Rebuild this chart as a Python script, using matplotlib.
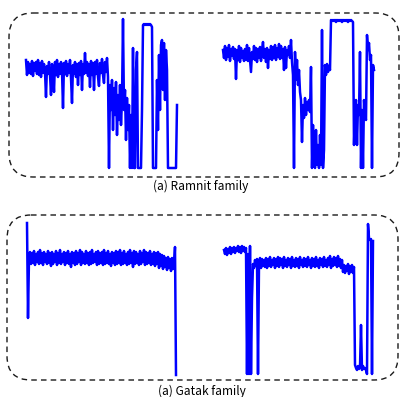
import matplotlib
matplotlib.use('Agg')
import matplotlib.pyplot as plt
from matplotlib.patches import FancyBboxPatch

# signal levels (height above the bottom of each plot)
ramnit_a = [110, 95, 108, 97, 106, 96, 109, 94, 107, 99,
            108, 96, 110, 95, 107, 93, 109, 97, 106, 98,
            73, 104, 96, 108, 95, 75, 106, 97, 78, 108,
            95, 110, 93, 106, 96, 108, 99, 62, 107, 96,
            109, 94, 106, 97, 110, 92, 67, 105, 96, 108,
            93, 106, 85, 107, 95, 109, 80, 106, 96, 117,
            97, 108, 94, 106, 83, 109, 95, 107, 80, 108,
            96, 110, 93, 84, 107, 97, 111, 95, 87, 108,
            98, 112, 93, 2, 85, 60, 90, 40, 82, 55,
            88, 35, 75, 50, 85, 45, 70, 151, 60, 80,
            30, 72, 40, 65, 2, 55, 2, 122, 2, 2,
            100, 118, 2, 2, 2, 2, 60, 145, 146, 145,
            146, 145, 146, 145, 146, 145, 143, 2, 2, 2,
            2, 90, 40, 115, 60, 125, 130, 80, 127, 70,
            120, 100, 2, 2, 2, 2, 2, 2, 2, 2,
            2, 65]
ramnit_b = [120, 112, 124, 110, 122, 113, 125, 109, 121, 114,
            123, 111, 121, 91, 120, 110, 124, 108, 122, 112,
            119, 109, 121, 110, 125, 109, 122, 110, 98, 118,
            111, 124, 110, 122, 108, 121, 112, 123, 109, 120,
            128, 112, 121, 108, 122, 102, 120, 111, 124, 110,
            123, 112, 125, 110, 122, 113, 126, 111, 124, 112,
            121, 100, 123, 102, 120, 115, 124, 112, 130, 108,
            95, 2, 118, 90, 110, 85, 100, 78, 70, 28,
            65, 52, 72, 55, 68, 60, 70, 58, 103, 2,
            45, 10, 2, 40, 5, 25, 2, 35, 5, 140,
            2, 20, 105, 95, 106, 98, 104, 100, 150, 149,
            150, 149, 150, 148, 150, 149, 150, 149, 150, 148,
            150, 149, 150, 149, 150, 148, 150, 149, 150, 149,
            148, 25, 60, 70, 25, 65, 55, 118, 2, 60,
            2, 70, 55, 50, 135, 120, 127, 110, 115, 2,
            105, 100]
gatak_a = [153, 58, 118, 124, 112, 123, 113, 125, 111, 122,
           114, 124, 112, 126, 113, 123, 111, 124, 114, 122,
           112, 125, 113, 123, 110, 124, 112, 122, 114, 125,
           111, 123, 113, 126, 112, 122, 114, 124, 111, 123,
           113, 125, 112, 122, 109, 124, 113, 123, 111, 125,
           112, 123, 114, 126, 111, 124, 113, 122, 112, 125,
           113, 123, 111, 124, 112, 126, 113, 122, 114, 124,
           111, 125, 112, 123, 113, 124, 111, 126, 112, 123,
           113, 125, 112, 122, 110, 124, 113, 123, 111, 125,
           112, 124, 113, 126, 111, 123, 112, 125, 113, 122,
           111, 124, 112, 126, 113, 123, 109, 125, 112, 124,
           113, 122, 111, 125, 112, 123, 114, 126, 111, 124,
           112, 123, 113, 125, 111, 122, 112, 124, 110, 123,
           112, 124, 108, 122, 110, 121, 107, 120, 109, 118,
           106, 119, 108, 117, 105, 118, 107, 110, 129, 1]
gatak_b = [126, 122, 128, 121, 127, 123, 129, 122, 128, 124,
           129, 123, 128, 125, 130, 124, 129, 123, 130, 125,
           129, 124, 128, 2, 122, 2, 130, 2, 78, 112,
           108, 116, 110, 117, 2, 112, 118, 108, 117, 110,
           116, 109, 118, 108, 117, 110, 119, 109, 116, 111,
           118, 108, 117, 110, 119, 109, 118, 111, 117, 108,
           119, 110, 116, 109, 118, 111, 117, 108, 119, 110,
           116, 109, 118, 110, 117, 108, 119, 111, 116, 109,
           118, 110, 117, 109, 119, 111, 116, 108, 118, 110,
           117, 109, 119, 110, 116, 108, 118, 111, 117, 109,
           119, 110, 116, 109, 118, 111, 120, 108, 117, 110,
           119, 111, 118, 109, 120, 110, 117, 108, 116, 104,
           111, 103, 110, 105, 112, 102, 110, 104, 111, 103,
           109, 11, 8, 6, 10, 7, 9, 51, 6, 10,
           7, 8, 6, 2, 152, 138, 136, 137, 2, 135]
captions = ['(a) Ramnit family', '(a) Gatak family']

W, H = 402, 397
fig = plt.figure(figsize=(W / 100, H / 100), dpi=100)

# background axes in pixel units for the dashed frames and captions
bg = fig.add_axes([0, 0, 1, 1])
bg.set_xlim(0, W)
bg.set_ylim(H, 0)
bg.axis('off')
for (x0, y0, x1, y1) in [(9, 13, 399, 177), (7, 215, 398, 380)]:
    bg.add_patch(FancyBboxPatch((x0, y0), x1 - x0, y1 - y0,
                                boxstyle='round,pad=0,rounding_size=24',
                                fill=False, ec='#1a1a1a', lw=1.0,
                                ls=(0, (4, 3))))
bg.text(201, 186, captions[0], ha='center', va='center', fontsize=8.6,
        family=['Noto Sans CJK KR', 'DejaVu Sans'])
bg.text(202, 391, captions[1], ha='center', va='center', fontsize=8.6,
        family=['Noto Sans CJK KR', 'DejaVu Sans'])


def signal(vals, left, right, bottom, top):
    ax = fig.add_axes([left / W, 1 - bottom / H, (right - left) / W,
                       (bottom - top) / H])
    ax.plot(range(len(vals)), vals, color='#0000ff', lw=1.8,
            clip_on=False)
    ax.set_xlim(0, len(vals) - 1)
    ax.set_ylim(0, 151)
    ax.axis('off')


signal(ramnit_a, 26, 177, 170, 19)
signal(ramnit_b, 223, 374, 170, 19)
signal(gatak_a, 27, 176, 376, 225)
signal(gatak_b, 224, 373, 376, 225)

fig.savefig('out.png', dpi=100)
